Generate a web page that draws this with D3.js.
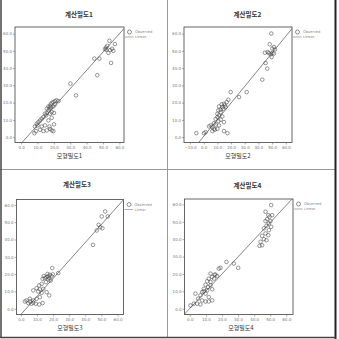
<!DOCTYPE html>
<html><head><meta charset="utf-8">
<script src="https://cdn.jsdelivr.net/npm/d3@7"></script>
<style>body{margin:0;background:#fff}svg{display:block}</style>
</head><body>
<script>
const titles = ["계산밀도1", "계산밀도2", "계산밀도3", "계산밀도4"];
const xLabels = ["모형밀도1", "모형밀도2", "모형밀도3", "모형밀도4"];
const xTicksA = [0, 10, 20, 30, 40, 50, 60];
const xTicksB = [-10, 0, 10, 20, 30, 40, 50, 60];
const yTicks = [0, 10, 20, 30, 40, 50, 60];
const xDomains = [[-3.7, 62.8], [-14.4, 64.5], [-2.7, 63.7], [-3.3, 64.2]];
const yDomains = [[-3.1, 63.8], [-3.1, 63.8], [-3.3, 63.1], [-3.3, 63.1]];
const fitIntercepts = [-3.7, 0.47, -3.3, 0.2];
const fitSlopes = [1.06, 0.967, 1.04, 0.988];
const legendLabels = ["Observed", "Linear"];

const obs1X = [53.9,52.6,51.8,51.2,54.3,57.3,56.3,53.3,44.7,47.8,54.9,46.5,30.1,33.5,52.0,55.5,
  17.7,18.1,18.7,19.7,20.7,21.7,22.8,17.3,16.7,15.7,17.7,15.2,13.6,12.6,18.7,11.6,10.6,9.6,8.5,10.0,9.1,8.1,11.6,13.6,15.7,17.7,19.7,18.7,20.1,17.3,14.6,12.6,16.7,14.6,19.7,20.7,16.7,18.3,15.7,18.7,20.1];
const obs1Y = [55.8,52.9,51.9,51.0,50.4,53.9,50.0,48.8,45.5,45.5,43.0,35.9,31.0,24.2,50.6,51.2,
  17.8,19.0,19.8,20.3,20.9,21.3,20.9,16.5,15.5,14.0,13.6,12.6,11.6,10.7,11.2,9.7,8.7,7.8,6.2,6.8,3.5,2.3,4.3,3.5,3.9,4.8,3.5,3.9,7.4,6.2,6.8,6.2,9.7,13.6,17.8,19.0,17.8,17.1,16.5,14.5,14.0];

const obs2X = [49.4,48.2,51.3,50.1,52.0,46.7,44.7,47.7,50.1,48.9,51.3,49.6,45.2,46.4,42.8,19.7,31.4,25.8,
  18.0,16.8,14.8,13.1,11.2,13.6,15.5,14.3,12.4,10.7,10.0,11.2,13.6,10.0,8.7,12.4,10.7,7.5,5.1,6.3,3.9,1.4,0.2,-5.4,8.2,6.3,7.5,10.0,14.8,17.3,11.2,8.7,14.8,12.4,16.0];
const obs2Y = [60.0,53.8,52.2,51.3,50.7,49.3,48.9,48.7,48.7,48.0,48.4,46.4,42.9,39.7,33.3,26.1,26.1,23.2,
  21.7,20.3,19.3,19.0,17.8,17.4,18.4,16.4,15.9,15.5,13.5,12.6,12.0,11.6,10.6,10.1,9.3,8.1,6.8,5.8,6.2,2.9,2.3,2.3,4.3,3.5,4.8,4.8,3.5,2.3,6.8,7.3,8.7,14.5,17.4];

const obs3X = [52.3,50.2,53.9,47.1,49.2,50.6,48.3,44.8,19.5,23.2,
  18.0,17.0,16.0,14.9,13.5,19.1,17.6,18.5,17.0,15.6,12.9,11.4,9.8,11.8,10.8,7.7,13.9,12.9,16.0,17.6,11.8,9.8,7.7,5.6,3.5,2.5,4.6,7.7,9.3,11.4,13.5,6.6,5.6,16.5,19.8,14.2];
const obs3Y = [56.2,53.3,53.3,45.2,47.1,46.5,48.5,36.9,23.5,20.6,
  19.6,18.8,18.3,17.7,17.3,18.8,17.7,16.3,16.9,15.4,14.4,13.5,11.9,11.2,10.0,10.6,11.5,9.2,9.6,7.7,6.7,5.8,4.8,4.2,4.8,4.2,3.3,3.5,2.9,2.5,3.3,2.9,5.8,20.1,19.9,18.9];

const obs4X = [50.6,47.1,48.8,49.6,51.2,48.1,47.1,50.2,49.2,47.7,50.6,46.1,49.2,47.1,45.0,48.8,46.1,44.0,45.0,47.7,43.4,22.8,19.1,18.0,27.4,30.1,
  15.4,13.9,12.9,11.8,15.1,10.8,12.9,9.8,11.4,8.7,13.9,7.7,3.5,9.8,6.6,11.8,5.2,7.7,9.8,11.8,2.5,4.6,6.6,0.4,13.9,16.0,17.0,12.9,8.7,10.8];
const obs4Y = [59.6,55.8,53.8,52.9,53.8,51.5,50.4,50.4,49.0,47.7,47.1,46.2,45.2,43.3,41.9,42.3,40.0,38.5,36.5,39.4,36.2,26.9,23.5,23.1,26.0,23.5,
  19.6,18.3,20.2,17.3,17.3,15.8,15.4,13.8,12.5,11.5,11.2,9.6,8.7,8.7,7.7,6.7,5.8,4.8,4.2,4.2,2.9,2.9,2.5,1.9,4.8,19.6,18.8,13.5,10.0,10.6];

const obsX = [obs1X, obs2X, obs3X, obs4X];
const obsY = [obs1Y, obs2Y, obs3Y, obs4Y];
const xTickSets = [xTicksA, xTicksB, xTicksA, xTicksA];

// layout (pixels)
const frames = [
  {l: 15, r: 124, t: 27, b: 142.5, tx: 79, ty: 16.5, lx: 69.5, ly: 158},
  {l: 184, r: 292, t: 27, b: 142.5, tx: 247.5, ty: 16.5, lx: 238, ly: 158},
  {l: 16.5, r: 123.5, t: 199.5, b: 314.5, tx: 77, ty: 187, lx: 70, ly: 329.5},
  {l: 184.5, r: 293, t: 199, b: 314.5, tx: 247.5, ty: 188, lx: 241, ly: 329.5}
];

const W = 339, H = 339;
const svg = d3.select("body").append("svg").attr("width", W).attr("height", H)
  .style("font-family", "'Noto Sans CJK KR', 'DejaVu Sans', sans-serif");
svg.append("rect").attr("width", W).attr("height", H).attr("fill", "#fff");

// table grid lines
svg.append("line").attr("x1", 167.5).attr("x2", 167.5).attr("y1", 0).attr("y2", 338).attr("stroke", "#9a9a9a").attr("stroke-width", 1);
svg.append("line").attr("x1", 0).attr("x2", 336).attr("y1", 169.5).attr("y2", 169.5).attr("stroke", "#9a9a9a").attr("stroke-width", 1);
svg.append("line").attr("x1", 1).attr("x2", 1).attr("y1", 0).attr("y2", 338).attr("stroke", "#444").attr("stroke-width", 1.5);
svg.append("line").attr("x1", 335.5).attr("x2", 335.5).attr("y1", 0).attr("y2", 339).attr("stroke", "#222").attr("stroke-width", 2);
svg.append("line").attr("x1", 0).attr("x2", 336).attr("y1", 337.5).attr("y2", 337.5).attr("stroke", "#444").attr("stroke-width", 1.5);

frames.forEach((f, i) => {
  const g = svg.append("g");
  const x = d3.scaleLinear().domain(xDomains[i]).range([f.l, f.r]);
  const y = d3.scaleLinear().domain(yDomains[i]).range([f.b, f.t]);

  const clipId = "clip" + i;
  svg.append("clipPath").attr("id", clipId).append("rect")
    .attr("x", f.l).attr("y", f.t).attr("width", f.r - f.l).attr("height", f.b - f.t);

  // axes
  const xa = g.append("g").attr("transform", `translate(0,${f.b})`)
    .call(d3.axisBottom(x).tickValues(xTickSets[i]).tickFormat(d3.format(".1f")).tickSize(2).tickSizeOuter(0));
  const ya = g.append("g").attr("transform", `translate(${f.l},0)`)
    .call(d3.axisLeft(y).tickValues(yTicks).tickFormat(d3.format(".1f")).tickSize(2).tickSizeOuter(0));
  [xa, ya].forEach(a => {
    a.select(".domain").remove();
    a.selectAll("line").attr("stroke", "#777").attr("stroke-width", 0.6);
    a.selectAll("text").attr("fill", "#777").style("font-size", "4px").style("font-family", "'DejaVu Sans', sans-serif");
  });
  xa.selectAll("text").attr("dy", "0.9em").attr("y", 2.5);
  ya.selectAll("text").attr("x", -3);

  // frame
  g.append("rect").attr("x", f.l).attr("y", f.t).attr("width", f.r - f.l).attr("height", f.b - f.t)
    .attr("fill", "none").attr("stroke", "#555").attr("stroke-width", 0.9);

  // fit line
  const x0 = xDomains[i][0], x1 = xDomains[i][1];
  g.append("line").attr("clip-path", `url(#${clipId})`)
    .attr("x1", x(x0)).attr("y1", y(fitIntercepts[i] + fitSlopes[i] * x0))
    .attr("x2", x(x1)).attr("y2", y(fitIntercepts[i] + fitSlopes[i] * x1))
    .attr("stroke", "#666").attr("stroke-width", 0.8);

  // points
  const pts = obsX[i].map((v, k) => [v, obsY[i][k]]);
  g.selectAll("circle.pt").data(pts).join("circle").attr("class", "pt")
    .attr("cx", d => x(d[0])).attr("cy", d => y(d[1])).attr("r", 1.8)
    .attr("fill", "none").attr("stroke", "#444").attr("stroke-width", 0.55);

  // title and x label
  g.append("text").attr("x", f.tx).attr("y", f.ty).attr("text-anchor", "middle")
    .attr("fill", "#333").style("font-size", "6.5px").style("font-weight", "bold").text(titles[i]);
  g.append("text").attr("x", f.lx).attr("y", f.ly).attr("text-anchor", "middle")
    .attr("fill", "#333").style("font-size", "6px").text(xLabels[i]);

  // legend
  const lg = g.append("g").attr("transform", `translate(${f.r},${f.t})`);
  lg.append("circle").attr("cx", 5.5).attr("cy", 5).attr("r", 2).attr("fill", "none").attr("stroke", "#444").attr("stroke-width", 0.6);
  lg.append("text").attr("x", 11).attr("y", 6.3).attr("fill", "#888").style("font-size", "3.6px")
    .style("font-family", "'DejaVu Sans', sans-serif").text(legendLabels[0]);
  lg.append("line").attr("x1", 1).attr("x2", 9.5).attr("y1", 10).attr("y2", 10).attr("stroke", "#777").attr("stroke-width", 0.6);
  lg.append("text").attr("x", 11).attr("y", 11.3).attr("fill", "#888").style("font-size", "3.6px")
    .style("font-family", "'DejaVu Sans', sans-serif").text(legendLabels[1]);
});
</script>
</body></html>
